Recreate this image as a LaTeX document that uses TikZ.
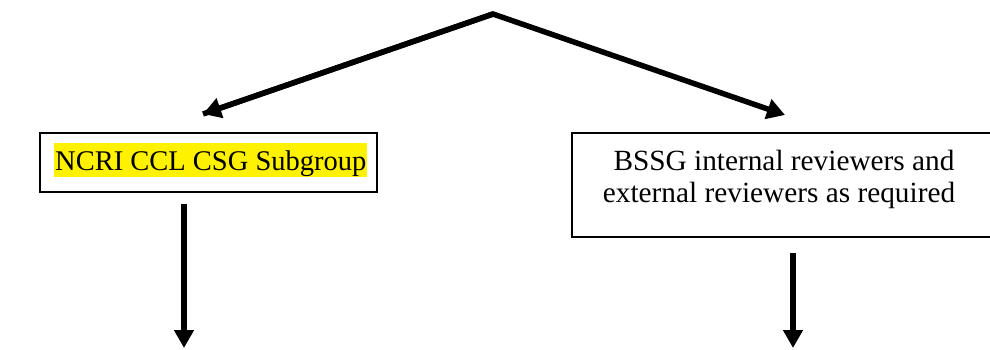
\documentclass[tikz,border=0pt]{standalone}
\usepackage{fontspec}
\setmainfont{Liberation Serif}
\usetikzlibrary{arrows.meta}
\begin{document}
\begin{tikzpicture}[x=1pt,y=-1pt,
  boxstyle/.style={draw=black,line width=2pt,rectangle,inner sep=0pt},
  txt/.style={font=\fontsize{28.5}{32}\selectfont,inner sep=0pt},
  rtxt/.style={font=\fontsize{29.3}{32}\selectfont,inner sep=0pt},
  thickarrow/.style={line width=5.5pt,-{Triangle[width=20pt,length=18pt]}},
  vertarrow/.style={line width=6.5pt,-{Triangle[width=19pt,length=18pt]}}]
\useasboundingbox (0,0) rectangle (990,349);
% boxes
\node[boxstyle,minimum width=337pt,minimum height=59pt] (lbox) at (208.5,162.5) {};
\node[boxstyle,minimum width=423pt,minimum height=104pt] (rbox) at (783.5,185) {};
% left text with yellow highlight
\node[txt,fill=yellow,anchor=base west,text height=27pt,text depth=7pt,inner xsep=1pt] (ltxt) at (54,170) {NCRI CCL CSG Subgroup};
% right text
\node[rtxt,anchor=base] (rt1) at (784,170) {BSSG internal reviewers and};
\node[rtxt,anchor=base] (rt2) at (779,202) {external reviewers as required};
% connectors
\coordinate (apex) at (493,14);
\coordinate (ltip) at (203,114);
\coordinate (rtip) at (785,115);
\draw[thickarrow,line join=miter] (ltip) -- (apex) -- (rtip);
\draw[thickarrow,line join=miter] (apex) -- (ltip);
\coordinate (la1) at (184,204);
\coordinate (la2) at (184,348);
\coordinate (ra1) at (793,253);
\coordinate (ra2) at (793,348);
\draw[vertarrow] (la1) -- (la2);
\draw[vertarrow] (ra1) -- (ra2);
\end{tikzpicture}
\end{document}
